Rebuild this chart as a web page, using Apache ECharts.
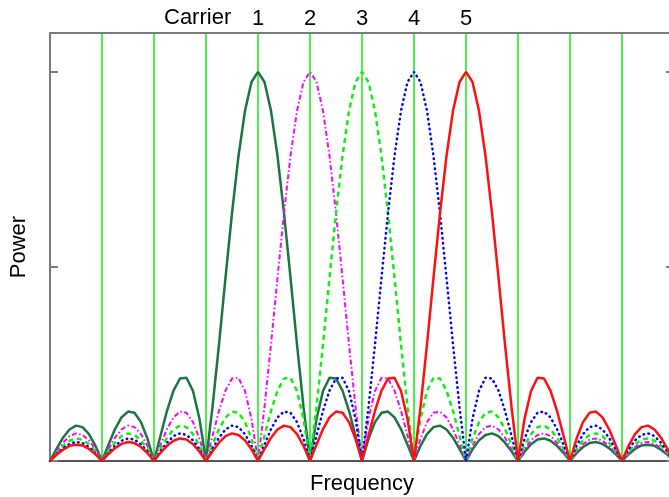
<!DOCTYPE html>
<html>
<head>
<meta charset="utf-8">
<script src="https://cdn.jsdelivr.net/npm/echarts@6/dist/echarts.min.js"></script>
<style>
  html, body { margin: 0; padding: 0; background: #fff; }
  #chart { width: 669px; height: 497px; }
</style>
</head>
<body>
<div id="chart"></div>
<script>
// frequency axis, in carrier spacings (carrier 1 at 0)
const freq = [
  -4, -3.875, -3.75, -3.625, -3.5, -3.375, -3.25, -3.125,
  -3, -2.875, -2.75, -2.625, -2.5, -2.375, -2.25, -2.125,
  -2, -1.875, -1.75, -1.625, -1.5, -1.375, -1.25, -1.125,
  -1, -0.875, -0.75, -0.625, -0.5, -0.375, -0.25, -0.125,
  0, 0.125, 0.25, 0.375, 0.5, 0.625, 0.75, 0.875,
  1, 1.125, 1.25, 1.375, 1.5, 1.625, 1.75, 1.875,
  2, 2.125, 2.25, 2.375, 2.5, 2.625, 2.75, 2.875,
  3, 3.125, 3.25, 3.375, 3.5, 3.625, 3.75, 3.875,
  4, 4.125, 4.25, 4.375, 4.5, 4.625, 4.75, 4.875,
  5, 5.125, 5.25, 5.375, 5.5, 5.625, 5.75, 5.875,
  6, 6.125, 6.25, 6.375, 6.5, 6.625, 6.75, 6.875,
  7, 7.125, 7.25, 7.375, 7.5, 7.625, 7.75, 7.875,
  8
];

const carrier1 = [
  0, 0.031, 0.060, 0.081, 0.091, 0.087, 0.069, 0.039,
  0, 0.042, 0.082, 0.112, 0.127, 0.124, 0.100, 0.057,
  0, 0.065, 0.129, 0.181, 0.212, 0.214, 0.180, 0.108,
  0, 0.139, 0.300, 0.471, 0.637, 0.784, 0.900, 0.974,
  1,
  0.974, 0.900, 0.784, 0.637, 0.471, 0.300, 0.139, 0,
  0.108, 0.180, 0.214, 0.212, 0.181, 0.129, 0.065, 0,
  0.057, 0.100, 0.124, 0.127, 0.112, 0.082, 0.042, 0,
  0.039, 0.069, 0.087, 0.091, 0.081, 0.060, 0.031, 0,
  0.030, 0.053, 0.067, 0.071, 0.064, 0.047, 0.025, 0,
  0.024, 0.043, 0.055, 0.058, 0.052, 0.039, 0.021, 0,
  0.020, 0.036, 0.046, 0.049, 0.044, 0.033, 0.018, 0,
  0.017, 0.031, 0.040, 0.042, 0.039, 0.029, 0.016, 0
];

const carrier2 = [
  0, 0.025, 0.047, 0.064, 0.071, 0.067, 0.053, 0.030,
  0, 0.031, 0.060, 0.081, 0.091, 0.087, 0.069, 0.039,
  0, 0.042, 0.082, 0.112, 0.127, 0.124, 0.100, 0.057,
  0, 0.065, 0.129, 0.181, 0.212, 0.214, 0.180, 0.108,
  0, 0.139, 0.300, 0.471, 0.637, 0.784, 0.900, 0.974,
  1,
  0.974, 0.900, 0.784, 0.637, 0.471, 0.300, 0.139, 0,
  0.108, 0.180, 0.214, 0.212, 0.181, 0.129, 0.065, 0,
  0.057, 0.100, 0.124, 0.127, 0.112, 0.082, 0.042, 0,
  0.039, 0.069, 0.087, 0.091, 0.081, 0.060, 0.031, 0,
  0.030, 0.053, 0.067, 0.071, 0.064, 0.047, 0.025, 0,
  0.024, 0.043, 0.055, 0.058, 0.052, 0.039, 0.021, 0,
  0.020, 0.036, 0.046, 0.049, 0.044, 0.033, 0.018, 0
];

const carrier3 = [
  0, 0.021, 0.039, 0.052, 0.058, 0.055, 0.043, 0.024,
  0, 0.025, 0.047, 0.064, 0.071, 0.067, 0.053, 0.030,
  0, 0.031, 0.060, 0.081, 0.091, 0.087, 0.069, 0.039,
  0, 0.042, 0.082, 0.112, 0.127, 0.124, 0.100, 0.057,
  0, 0.065, 0.129, 0.181, 0.212, 0.214, 0.180, 0.108,
  0, 0.139, 0.300, 0.471, 0.637, 0.784, 0.900, 0.974,
  1,
  0.974, 0.900, 0.784, 0.637, 0.471, 0.300, 0.139, 0,
  0.108, 0.180, 0.214, 0.212, 0.181, 0.129, 0.065, 0,
  0.057, 0.100, 0.124, 0.127, 0.112, 0.082, 0.042, 0,
  0.039, 0.069, 0.087, 0.091, 0.081, 0.060, 0.031, 0,
  0.030, 0.053, 0.067, 0.071, 0.064, 0.047, 0.025, 0,
  0.024, 0.043, 0.055, 0.058, 0.052, 0.039, 0.021, 0
];

const carrier4 = [
  0, 0.018, 0.033, 0.044, 0.049, 0.046, 0.036, 0.020,
  0, 0.021, 0.039, 0.052, 0.058, 0.055, 0.043, 0.024,
  0, 0.025, 0.047, 0.064, 0.071, 0.067, 0.053, 0.030,
  0, 0.031, 0.060, 0.081, 0.091, 0.087, 0.069, 0.039,
  0, 0.042, 0.082, 0.112, 0.127, 0.124, 0.100, 0.057,
  0, 0.065, 0.129, 0.181, 0.212, 0.214, 0.180, 0.108,
  0, 0.139, 0.300, 0.471, 0.637, 0.784, 0.900, 0.974,
  1,
  0.974, 0.900, 0.784, 0.637, 0.471, 0.300, 0.139, 0,
  0.108, 0.180, 0.214, 0.212, 0.181, 0.129, 0.065, 0,
  0.057, 0.100, 0.124, 0.127, 0.112, 0.082, 0.042, 0,
  0.039, 0.069, 0.087, 0.091, 0.081, 0.060, 0.031, 0,
  0.030, 0.053, 0.067, 0.071, 0.064, 0.047, 0.025, 0
];

const carrier5 = [
  0, 0.016, 0.029, 0.039, 0.042, 0.040, 0.031, 0.017,
  0, 0.018, 0.033, 0.044, 0.049, 0.046, 0.036, 0.020,
  0, 0.021, 0.039, 0.052, 0.058, 0.055, 0.043, 0.024,
  0, 0.025, 0.047, 0.064, 0.071, 0.067, 0.053, 0.030,
  0, 0.031, 0.060, 0.081, 0.091, 0.087, 0.069, 0.039,
  0, 0.042, 0.082, 0.112, 0.127, 0.124, 0.100, 0.057,
  0, 0.065, 0.129, 0.181, 0.212, 0.214, 0.180, 0.108,
  0, 0.139, 0.300, 0.471, 0.637, 0.784, 0.900, 0.974,
  1,
  0.974, 0.900, 0.784, 0.637, 0.471, 0.300, 0.139, 0,
  0.108, 0.180, 0.214, 0.212, 0.181, 0.129, 0.065, 0,
  0.057, 0.100, 0.124, 0.127, 0.112, 0.082, 0.042, 0,
  0.039, 0.069, 0.087, 0.091, 0.081, 0.060, 0.031, 0
];

// carrier centres and their labels along the top
const carrierPos = [0, 1, 2, 3, 4];
const carrierLabels = ['1', '2', '3', '4', '5'];

const FONT = '"Liberation Sans", Arial, sans-serif';
const AXIS_GREY = '#7a7a7a';

const pairs = ys => freq.map((f, i) => [f, ys[i]]);

const chart = echarts.init(document.getElementById('chart'));

const lineSeries = (name, ys, color, width, dash, cap) => ({
    name: name,
    type: 'line',
    data: pairs(ys),
    showSymbol: false,
    symbol: 'none',
    animation: false,
    lineStyle: { color: color, width: width, type: dash, cap: cap || 'butt' }
});

chart.setOption({
    animation: false,
    grid: { left: 50, top: 33, width: 624, height: 428, outerBoundsMode: 'none' },
    graphic: [
        {
            type: 'text',
            left: 164,
            top: 7,
            style: { text: 'Carrier', font: '22px ' + FONT, fill: '#000' }
        }
    ],
    xAxis: [
        {
            type: 'value',
            min: -4,
            max: 8,
            interval: 1,
            position: 'bottom',
            axisLine: { show: true, onZero: false, lineStyle: { color: '#555', width: 2 } },
            axisTick: { show: false },
            axisLabel: { show: false },
            splitLine: { show: true, lineStyle: { color: '#4cf04c', width: 2 } },
            name: 'Frequency',
            nameLocation: 'middle',
            nameGap: 12,
            nameTextStyle: { fontFamily: FONT, fontSize: 22, color: '#000', verticalAlign: 'top' }
        },
        {
            type: 'value',
            min: -4,
            max: 8,
            interval: 1,
            position: 'top',
            axisLine: { show: true, onZero: false, lineStyle: { color: AXIS_GREY, width: 2 } },
            axisTick: { show: false },
            splitLine: { show: false },
            axisLabel: {
                margin: 3,
                fontFamily: FONT,
                fontSize: 22,
                color: '#000',
                formatter: v => {
                    const i = carrierPos.indexOf(v);
                    return i >= 0 ? carrierLabels[i] : '';
                }
            }
        }
    ],
    yAxis: [
        {
            type: 'value',
            min: 0,
            max: 1.1,
            interval: 0.5,
            position: 'left',
            axisLine: { show: true, onZero: false, lineStyle: { color: AXIS_GREY, width: 2 } },
            axisTick: { show: true, inside: true, length: 8, lineStyle: { color: AXIS_GREY, width: 2 } },
            axisLabel: { show: false },
            splitLine: { show: false },
            name: 'Power',
            nameLocation: 'middle',
            nameGap: 20,
            nameTextStyle: { fontFamily: FONT, fontSize: 22, color: '#000' }
        },
        {
            type: 'value',
            min: 0,
            max: 1.1,
            interval: 0.5,
            position: 'right',
            axisLine: { show: true, onZero: false, lineStyle: { color: AXIS_GREY, width: 2 } },
            axisTick: { show: true, inside: true, length: 8, lineStyle: { color: AXIS_GREY, width: 2 } },
            axisLabel: { show: false },
            splitLine: { show: false }
        }
    ],
    series: [
        lineSeries('Carrier 1', carrier1, '#1c7443', 2.5, 'solid'),
        lineSeries('Carrier 2', carrier2, '#ff00ff', 2, [5, 2.5, 1.5, 2.5]),
        lineSeries('Carrier 3', carrier3, '#11ee11', 2.5, [5, 4]),
        lineSeries('Carrier 4', carrier4, '#0000ff', 2.5, [0.5, 4.5], 'round'),
        lineSeries('Carrier 5', carrier5, '#ff1010', 2.5, 'solid')
    ]
});
</script>
</body>
</html>
